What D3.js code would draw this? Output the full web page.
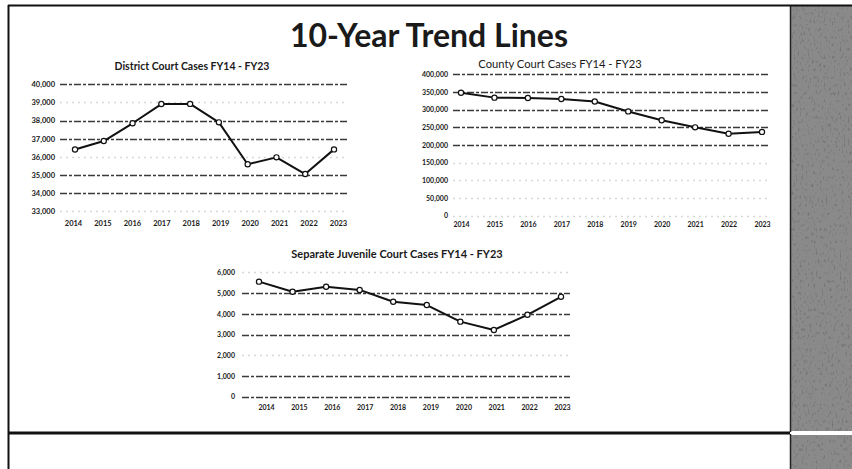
<!DOCTYPE html>
<html>
<head>
<meta charset="utf-8">
<script src="https://cdn.jsdelivr.net/npm/d3@7"></script>
<style>
  html, body { margin: 0; padding: 0; background: #fff; }
  svg { display: block; }
  text { font-family: Lato, "Open Sans", sans-serif; fill: #1a1a1a; }
</style>
</head>
<body>
<svg id="chart" width="852" height="469"></svg>
<script>
// ---------- DATA ----------
const years = ["2014","2015","2016","2017","2018","2019","2020","2021","2022","2023"];

const districtCases = [36400, 36870, 37850, 38910, 38920, 37900, 35590, 35970, 35050, 36410];
const countyCases   = [348000, 334000, 333000, 330000, 323000, 295000, 270000, 250000, 232000, 237000];
const juvenileCases = [5550, 5060, 5300, 5150, 4580, 4420, 3620, 3220, 3950, 4820];

const districtTicks = [33000, 34000, 35000, 36000, 37000, 38000, 39000, 40000];
const countyTicks   = [0, 50000, 100000, 150000, 200000, 250000, 300000, 350000, 400000];
const juvenileTicks = [0, 1000, 2000, 3000, 4000, 5000, 6000];

const pageTitle     = "10-Year Trend Lines";
const districtTitle = "District Court Cases FY14 - FY23";
const countyTitle   = "County Court Cases FY14 - FY23";
const juvenileTitle = "Separate Juvenile Court Cases FY14 - FY23";

// ---------- DRAW ----------
const svg = d3.select("#chart");
const defs = svg.append("defs");

// speckled gray texture for the side panel
const f = defs.append("filter").attr("id", "speckle")
  .attr("filterUnits", "userSpaceOnUse").attr("x", 790).attr("y", 0).attr("width", 62).attr("height", 469);
f.append("feTurbulence").attr("type", "fractalNoise").attr("baseFrequency", "0.5 0.25").attr("numOctaves", 2).attr("seed", 7).attr("result", "noise");
f.append("feColorMatrix").attr("in", "noise").attr("type", "matrix")
  .attr("values", "0 0 0 0 0.18  0 0 0 0 0.18  0 0 0 0 0.18  0 0 0 5 -2.9").attr("result", "dots");
f.append("feComposite").attr("in", "dots").attr("in2", "SourceGraphic").attr("operator", "in").attr("result", "clipped");
const fm = f.append("feMerge");
fm.append("feMergeNode").attr("in", "SourceGraphic");
fm.append("feMergeNode").attr("in", "clipped");

// page frame
const panel = svg.append("g").attr("filter", "url(#speckle)");
panel.append("rect").attr("x", 790).attr("y", 5).attr("width", 62).attr("height", 426).attr("fill", "#8a8a8a");
panel.append("rect").attr("x", 790).attr("y", 435).attr("width", 62).attr("height", 34).attr("fill", "#8a8a8a");
svg.append("line").attr("x1", 790.5).attr("x2", 790.5).attr("y1", 5).attr("y2", 469).attr("stroke", "#222").attr("stroke-width", 1.5);
svg.append("line").attr("x1", 8).attr("x2", 852).attr("y1", 5.5).attr("y2", 5.5).attr("stroke", "#111").attr("stroke-width", 2);
svg.append("line").attr("x1", 8.5).attr("x2", 8.5).attr("y1", 5).attr("y2", 469).attr("stroke", "#111").attr("stroke-width", 2);
svg.append("line").attr("x1", 8).attr("x2", 790).attr("y1", 433).attr("y2", 433).attr("stroke", "#111").attr("stroke-width", 3);
svg.append("line").attr("x1", 790).attr("x2", 852).attr("y1", 433).attr("y2", 433).attr("stroke", "#fff").attr("stroke-width", 2);

svg.append("text").attr("x", 429).attr("y", 47).attr("text-anchor", "middle")
  .attr("font-size", 32).attr("font-weight", 700).attr("fill", "#151515").text(pageTitle);

function drawChart(cfg) {
  const g = svg.append("g");
  const x = d3.scalePoint().domain(years).range([cfg.x0, cfg.x1]);
  const y = d3.scaleLinear().domain([cfg.ticks[0], cfg.ticks[cfg.ticks.length - 1]]).range([cfg.yBottom, cfg.yTop]);

  // gridlines
  g.append("g").selectAll("line").data(cfg.ticks).join("line")
    .attr("x1", cfg.gx0).attr("x2", cfg.gx1)
    .attr("y1", d => Math.round(y(d)) + 0.5).attr("y2", d => Math.round(y(d)) + 0.5)
    .attr("stroke", d => cfg.faded.includes(d) ? "#d8d8d8" : "#3a3a3a")
    .attr("stroke-width", 1.3)
    .attr("stroke-dasharray", d => cfg.faded.includes(d) ? "2 4" : "7 2 3 2");

  // y axis labels
  const yAxis = d3.axisLeft(y).tickValues(cfg.ticks).tickSize(0).tickPadding(0).tickFormat(d3.format(","));
  const ya = g.append("g").attr("transform", `translate(${cfg.labelRight},0)`).call(yAxis);
  ya.select(".domain").remove();
  ya.selectAll("text").attr("font-size", cfg.fs).attr("font-weight", 700).attr("fill", "#222")
    .style("font-family", "Lato, 'Open Sans', sans-serif");

  // x axis labels
  const xl = d3.scalePoint().domain(years).range([cfg.lx0, cfg.lx1]);
  const xAxis = d3.axisBottom(xl).tickSize(0).tickPadding(0);
  const xa = g.append("g").attr("transform", `translate(0,${cfg.labelY})`).call(xAxis);
  xa.select(".domain").remove();
  xa.selectAll("text").attr("font-size", cfg.fs).attr("font-weight", 700).attr("fill", "#222")
    .style("font-family", "Lato, 'Open Sans', sans-serif");

  // line
  const pts = years.map((yr, i) => [x(yr), y(cfg.values[i])]);
  g.append("path").attr("d", d3.line()(pts)).attr("fill", "none")
    .attr("stroke", "#111").attr("stroke-width", 2).attr("stroke-linejoin", "round");
  g.append("g").selectAll("circle").data(cfg.values).join("circle")
    .attr("cx", (d, i) => x(years[i])).attr("cy", d => y(d)).attr("r", 2.6)
    .attr("fill", "#fff").attr("stroke", "#111").attr("stroke-width", 1.2);

  // title
  g.append("text").attr("x", cfg.tx).attr("y", cfg.ty).attr("text-anchor", "middle")
    .attr("font-size", cfg.tfs).attr("font-weight", cfg.tfw).text(cfg.title);
}

drawChart({
  values: districtCases, ticks: districtTicks, faded: [33000, 36000, 39000],
  x0: 75, x1: 334, yTop: 84.3, yBottom: 211.2, gx0: 60, gx1: 347,
  labelRight: 55, lx0: 73, lx1: 338, labelY: 221, fs: 7.5,
  title: districtTitle, tx: 192, ty: 70, tfs: 10.5, tfw: 700
});

drawChart({
  values: countyCases, ticks: countyTicks, faded: [0, 50000, 100000, 150000],
  x0: 461, x1: 762, yTop: 74.3, yBottom: 215.7, gx0: 453, gx1: 770,
  labelRight: 448, lx0: 461, lx1: 762, labelY: 222, fs: 7,
  title: countyTitle, tx: 560, ty: 68, tfs: 11.2, tfw: 400
});

drawChart({
  values: juvenileCases, ticks: juvenileTicks, faded: [2000, 6000],
  x0: 259, x1: 561, yTop: 272.3, yBottom: 396.7, gx0: 242, gx1: 570,
  labelRight: 235, lx0: 266, lx1: 562, labelY: 405, fs: 7,
  title: juvenileTitle, tx: 397, ty: 258, tfs: 11, tfw: 700
});
</script>
</body>
</html>
